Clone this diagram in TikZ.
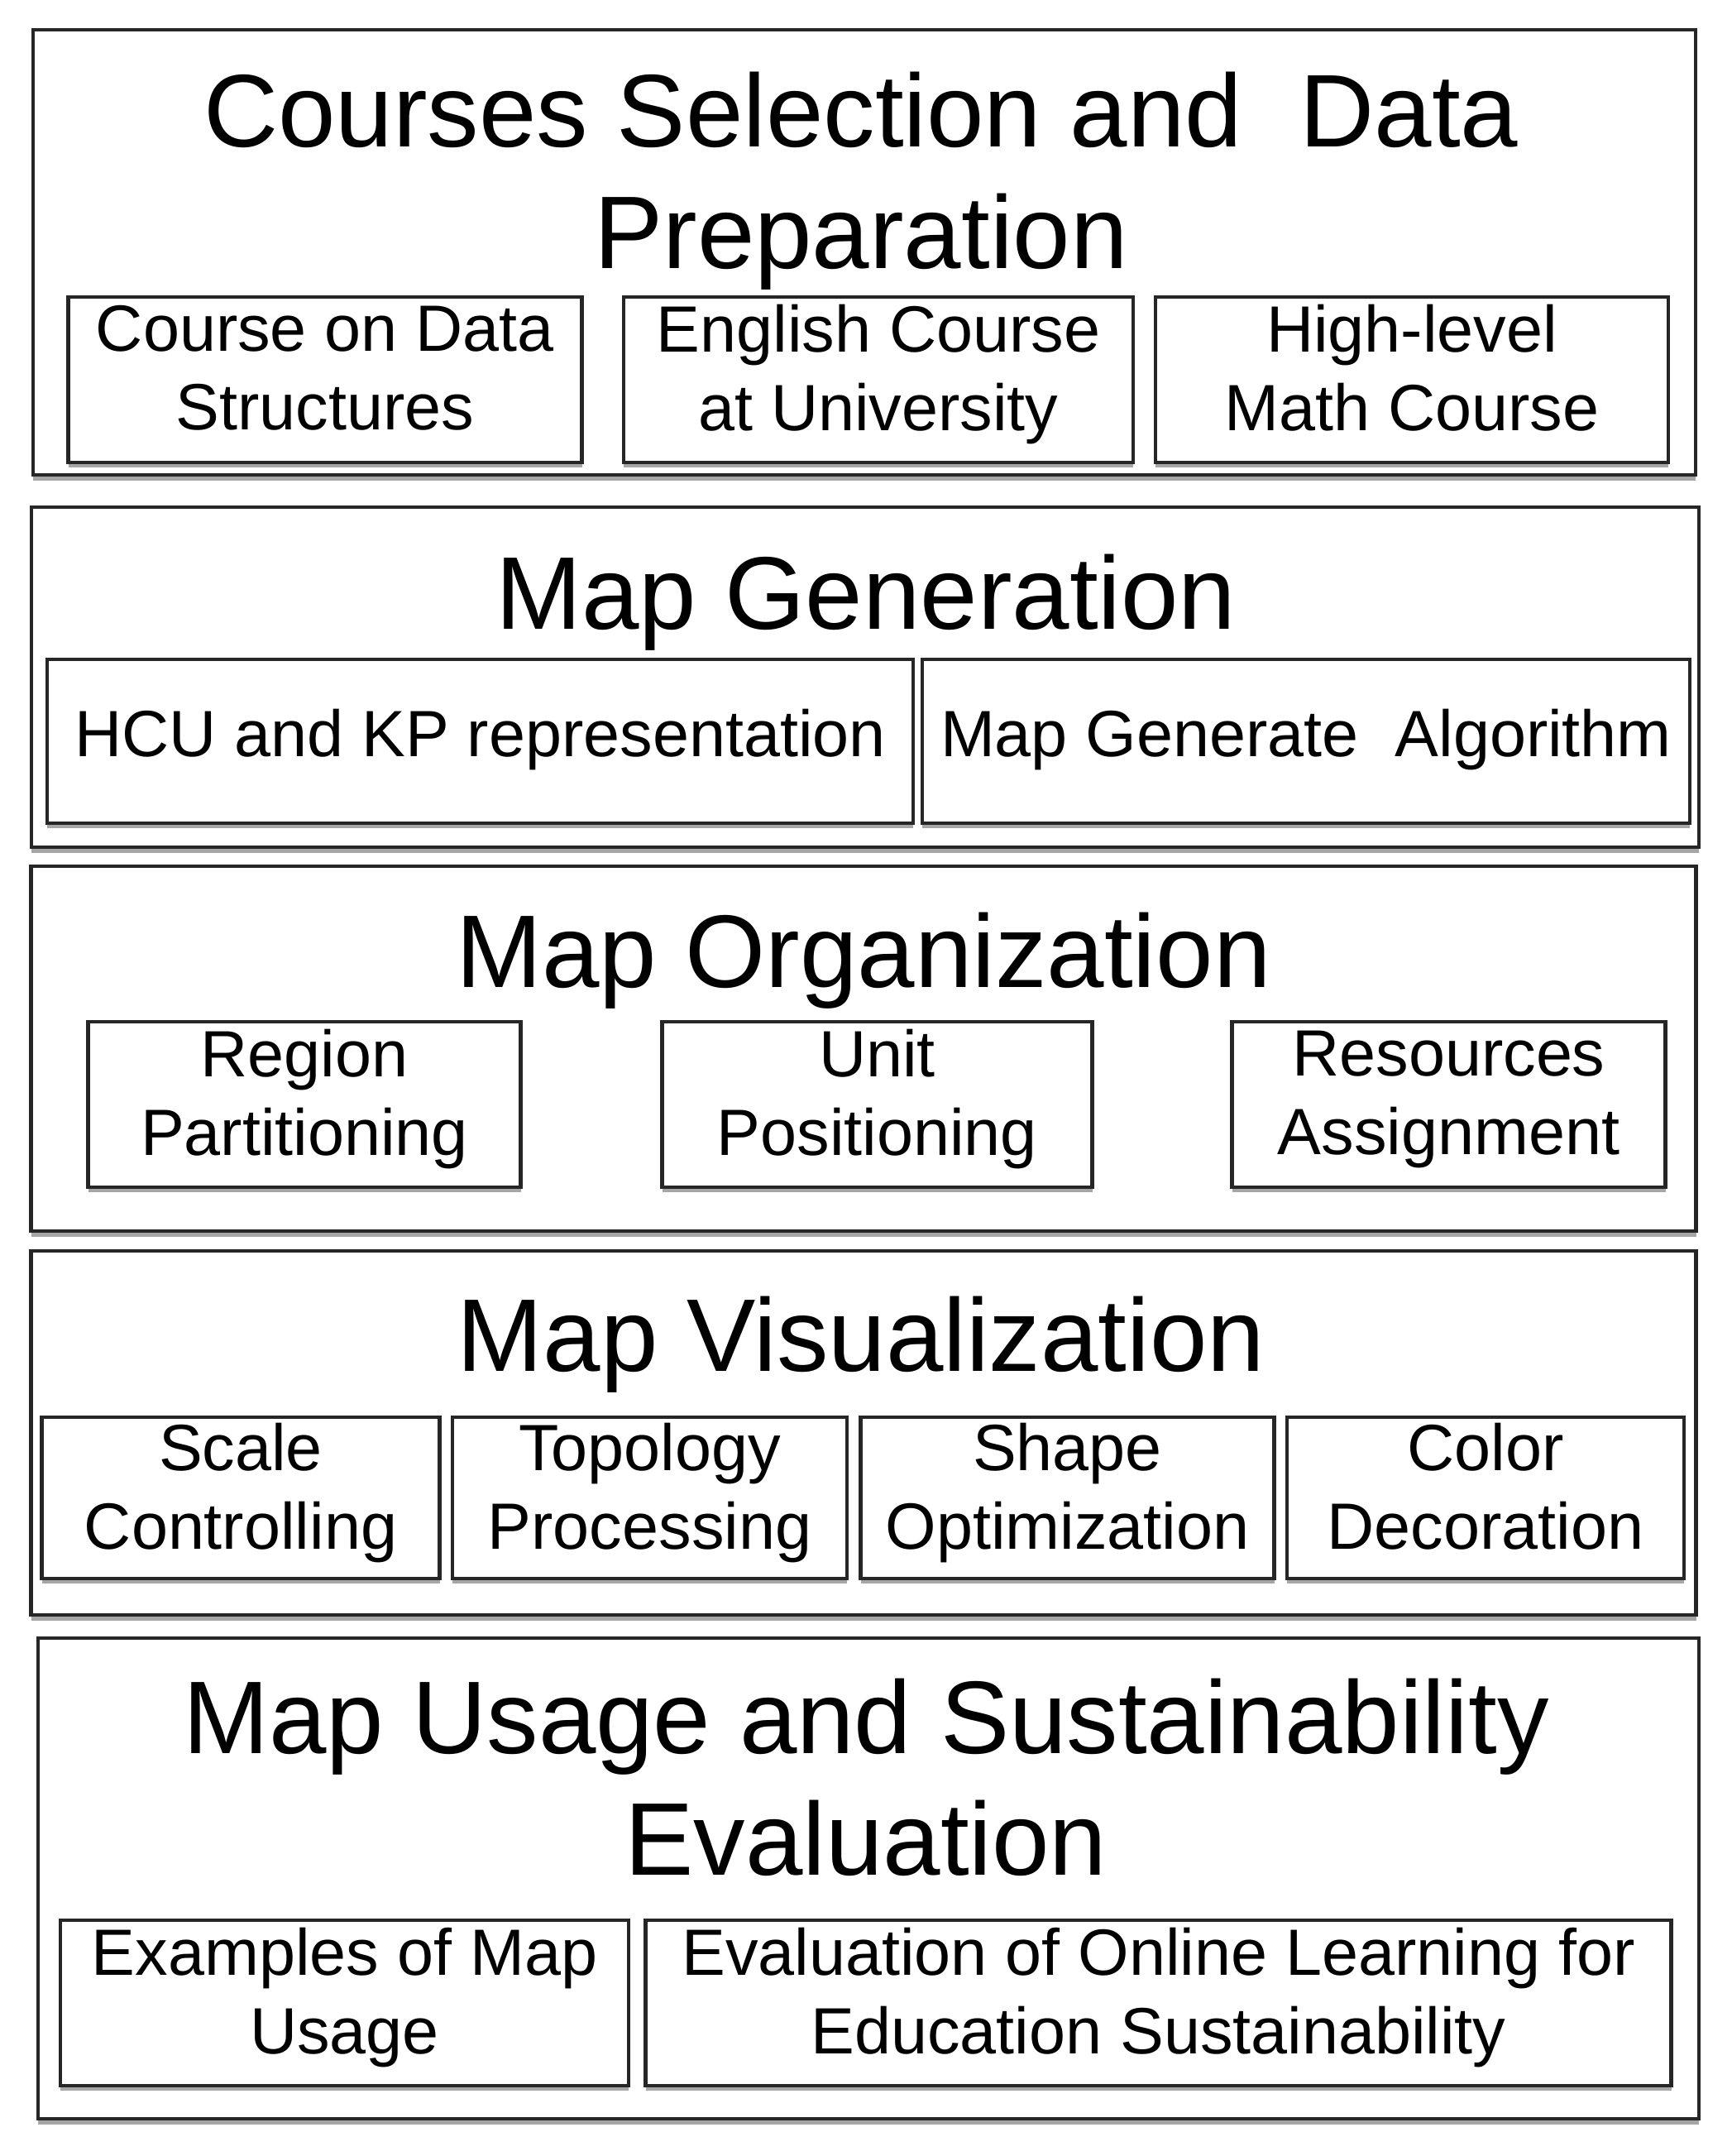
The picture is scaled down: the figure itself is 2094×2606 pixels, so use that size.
\documentclass[tikz,border=0pt]{standalone}
\usepackage{fontspec}
\setmainfont{Liberation Sans}
\usetikzlibrary{shadows}
\tikzset{
    stage/.style 2 args={draw=black!85, line width=1.4pt, fill=white, inner sep=0pt,
        minimum width=#1*0.01cm, minimum height=#2*0.01cm,
        drop shadow={shadow xshift=0pt, shadow yshift=-2pt, fill=gray!70, opacity=1}}, % outer stage frame
    heading/.style={font=\fontsize{35.5}{42}\selectfont, align=center, inner sep=0pt,
        execute at begin node=\strut, execute at end node=\strut}, % stage title
    task/.style 2 args={draw=black!85, line width=1.2pt, fill=white, inner sep=0pt, align=center,
        minimum width=#1*0.01cm, minimum height=#2*0.01cm,
        font=\fontsize{22.5}{27}\selectfont,
        execute at begin node=\strut, execute at end node=\strut,
        drop shadow={shadow xshift=0pt, shadow yshift=-1.6pt, fill=gray!70, opacity=1}}, % inner task box
}

\begin{document}
\begin{tikzpicture}[x=0.01cm, y=-0.01cm]
    \path[use as bounding box, fill=white] (0,0) rectangle (2094,2606);

    \node[stage={2010}{538}] (prep) at (1045,305) {};
    \node[heading] (prepT) at (1041,228) {Courses Selection and\ \ Data\\Preparation};
    \node[task={621}{200}] (ds) at (393,459) {Course on Data\\Structures};
    \node[task={616}{200}] (eng) at (1062,459) {English Course\\at University};
    \node[task={620}{200}] (math) at (1707,459) {High-level\\Math Course};

    \node[stage={2016}{411}] (gen) at (1046,818.5) {};
    \node[heading] (genT) at (1047,730.5) {Map Generation};
    \node[task={1047}{198}] (hcu) at (580.5,896) {HCU and KP representation};
    \node[task={928}{198}] (alg) at (1579,896) {Map Generate\ \ Algorithm};

    \node[stage={2013}{441}] (org) at (1044,1267.5) {};
    \node[heading] (orgT) at (1044,1163.5) {Map Organization};
    \node[task={523}{200}] (reg) at (368,1335) {Region\\Partitioning};
    \node[task={520}{200}] (unit) at (1060.5,1335) {Unit\\Positioning};
    \node[task={524}{200}] (res) at (1751.5,1335) {Resources\\Assignment};

    \node[stage={2013}{440}] (vis) at (1044,1732) {};
    \node[heading] (visT) at (1041,1627.5) {Map Visualization};
    \node[task={481}{195}] (scale) at (291,1810.5) {Scale\\Controlling};
    \node[task={477}{195}] (topo) at (785.5,1810.5) {Topology\\Processing};
    \node[task={500}{195}] (shape) at (1290.5,1810.5) {Shape\\Optimization};
    \node[task={480}{195}] (color) at (1796,1810.5) {Color\\Decoration};

    \node[stage={2008}{581}] (eval) at (1050,2270.5) {};
    \node[heading] (evalT) at (1047,2170) {Map Usage and Sustainability\\Evaluation};
    \node[task={687}{200}] (ex) at (416.5,2421) {Examples of Map\\Usage};
    \node[task={1240}{200}] (onl) at (1400.5,2421) {Evaluation of Online Learning for\\Education Sustainability};
\end{tikzpicture}
\end{document}
